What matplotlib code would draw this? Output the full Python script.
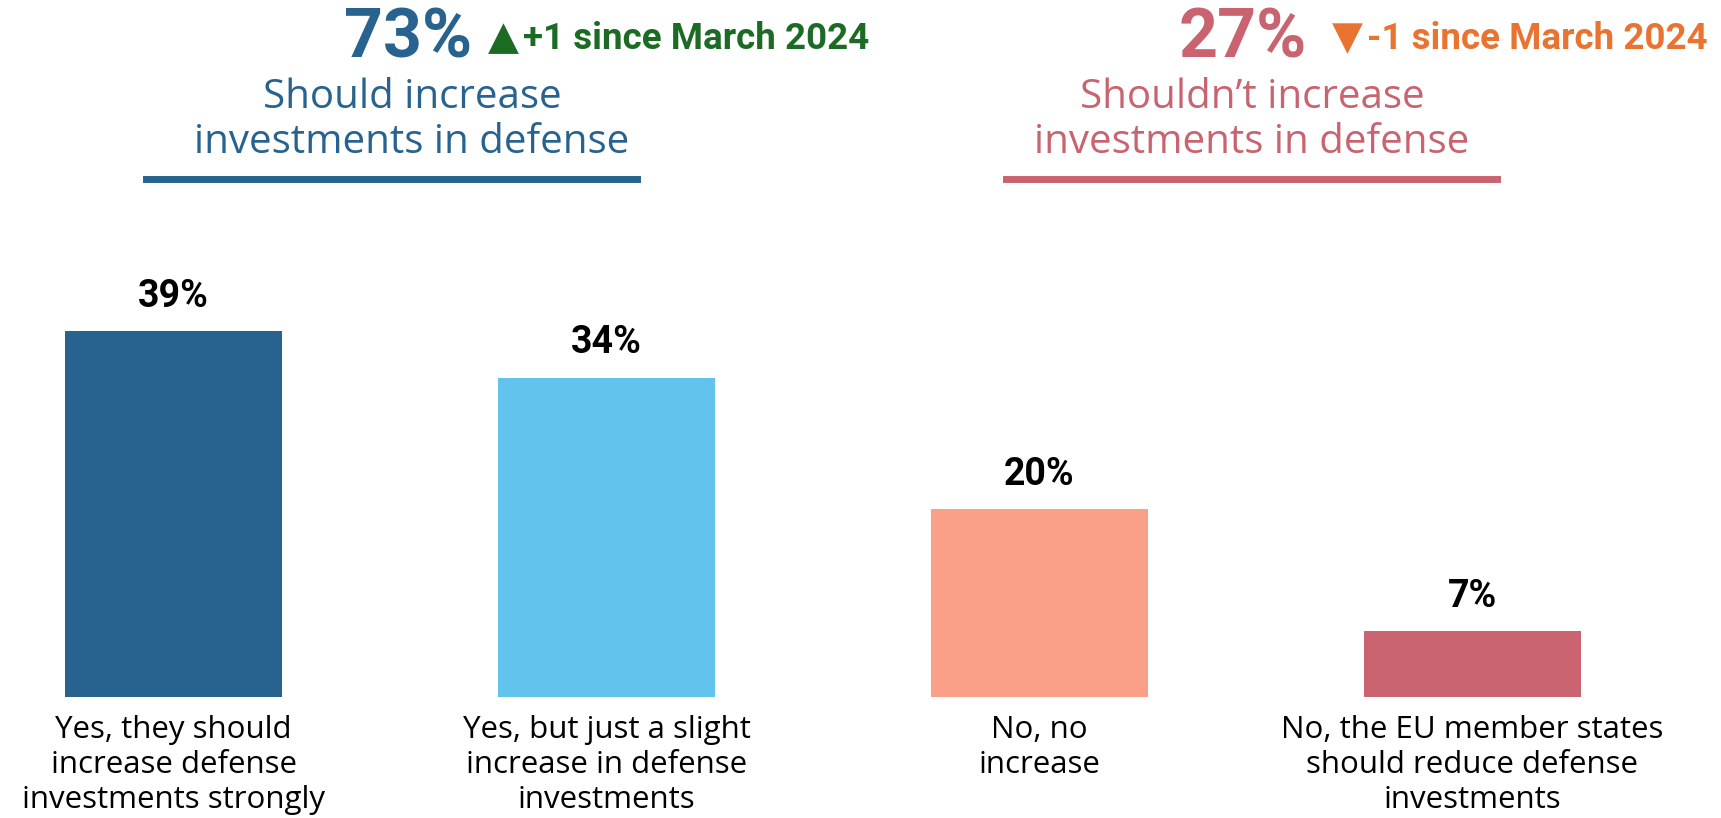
import matplotlib
matplotlib.use("Agg")
import matplotlib.pyplot as plt

# data
categories = [
    "Yes, they should\nincrease defense\ninvestments strongly",
    "Yes, but just a slight\nincrease in defense\ninvestments",
    "No, no\nincrease",
    "No, the EU member states\nshould reduce defense\ninvestments",
]
values = [39, 34, 20, 7]
bar_colors = ["#28628f", "#62c3ec", "#fba088", "#c96470"]

yes_total = 73
no_total = 27
yes_change = "+1 since March 2024"
no_change = "-1 since March 2024"
yes_title = "Should increase\ninvestments in defense"
no_title = "Shouldn\u2019t increase\ninvestments in defense"

W, H = 1721, 818
fig = plt.figure(figsize=(W / 100, H / 100), dpi=100)

# axes placed so bars land where they sit in the reference (pixel math)
bottom_px = 697
px_per_pct = 9.38
spacing = 433.0
first_center = 173.5
ax = fig.add_axes([0, 1 - bottom_px / H, 1, bottom_px / H])
ax.set_xlim(-first_center / spacing, (W - first_center) / spacing)
ax.set_ylim(0, bottom_px / px_per_pct)
ax.axis("off")

xs = list(range(len(values)))
bars = ax.bar(xs, values, width=0.5, color=bar_colors)

for x, v, label in zip(xs, values, categories):
    ax.annotate(f"{v}%", (x, v), xytext=(0, 12), textcoords="offset points",
                ha="center", va="bottom", fontsize=27, fontweight="bold",
                family="Roboto", color="black")
    ax.annotate(label, (x, 0), xytext=(0, -13),
                textcoords="offset points", ha="center", va="top",
                fontsize=22.5, family="Open Sans", color="black", linespacing=1.22,
                annotation_clip=False)


def fx(px):
    return px / W


def fy(px):
    return 1 - px / H


# header blocks
def header(total, total_color, right_px, change, change_color, arrow,
           arrow_gap, text_gap, title, title_center, line_left, line_right):
    fig.text(fx(right_px), fy(58), f"{total}%", ha="right", va="baseline",
             fontsize=49, fontweight="bold", family="Roboto", color=total_color)
    fig.text(fx(right_px + arrow_gap), fy(49), arrow, ha="left", va="baseline",
             fontsize=29, family="DejaVu Sans", color=change_color)
    fig.text(fx(right_px + text_gap), fy(49), change, ha="left", va="baseline",
             fontsize=26.5, fontweight="bold", family="Roboto", color=change_color)
    fig.text(fx(title_center), fy(153), title, ha="center", va="baseline",
             fontsize=29, family="Open Sans", color=total_color, linespacing=1.14)
    fig.add_artist(plt.Line2D([fx(line_left), fx(line_right)], [fy(179), fy(179)],
                              color=total_color, linewidth=5,
                              transform=fig.transFigure))


header(yes_total, "#28628f", 472, yes_change, "#1b6b24", "\u25B2", 16, 51,
       yes_title, 412, 146, 637)
header(no_total, "#c8636f", 1307, no_change, "#e97331", "\u25BC", 25, 60,
       no_title, 1252, 1006, 1497)

fig.savefig("out.png", dpi=100)
